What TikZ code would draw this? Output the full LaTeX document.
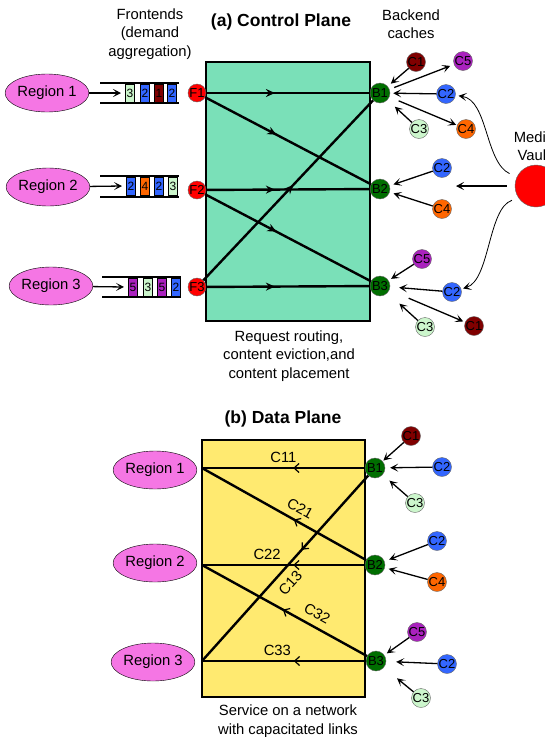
\documentclass[tikz,border=0pt]{standalone}
\usepackage{fontspec}
\setmainfont{Liberation Sans}
\usepackage{tikz}
\usetikzlibrary{shapes.geometric, arrows.meta, decorations.markings}
\definecolor{cMint}{RGB}{122,224,184}
\definecolor{cSand}{RGB}{255,234,112}
\definecolor{cPink}{RGB}{245,118,228}
\definecolor{cFront}{RGB}{255,0,0}
\definecolor{cBack}{RGB}{0,110,0}
\definecolor{cMaroon}{RGB}{128,0,0}
\definecolor{cBlue}{RGB}{51,102,255}
\definecolor{cPale}{RGB}{204,246,204}
\definecolor{cOrange}{RGB}{255,102,0}
\definecolor{cPurple}{RGB}{170,34,190}
\tikzset{
	region/.style   ={ellipse, draw=black, fill=cPink, minimum width=76pt, minimum height=38pt, inner sep=0pt},
	front/.style    ={circle, draw=black!60, fill=cFront, minimum size=18pt, inner sep=0pt, font=\fontsize{13}{13}\selectfont},
	back/.style     ={circle, draw=black!60, fill=cBack, minimum size=20pt, inner sep=0pt, font=\fontsize{13}{13}\selectfont},
	cache/.style    ={circle, draw=black!60, fill=#1, minimum size=19pt, inner sep=0pt, font=\fontsize{13}{13}\selectfont},
	qcell/.style    ={rectangle, draw=black, fill=#1, minimum width=9pt, minimum height=18pt, inner sep=0pt, font=\fontsize{12}{12}\selectfont},
	plane/.style    ={rectangle, draw=black, line width=1.6pt, fill=#1},
	link/.style     ={line width=2.4pt},
	fwdmark/.style  ={postaction={decorate}, decoration={markings, mark=at position #1 with {\arrow{Stealth[length=9pt,width=8pt,inset=3pt]}}}},
	backmark/.style ={postaction={decorate}, decoration={markings, mark=at position #1 with {\arrow{Straight Barb[length=5pt,width=9pt,line width=1.2pt]}}}},
	fetch/.style    ={-{Stealth[length=8pt,width=8pt,inset=4pt]}, line width=1.3pt},
	push/.style     ={-{Stealth[length=8pt,width=8pt,inset=4pt]}, line width=0.8pt},
	caption/.style  ={align=center, font=\fontsize{14.8}{18.5}\selectfont},
	heading/.style  ={font=\fontsize{17.5}{20}\selectfont\bfseries},
}
\begin{document}
\begin{tikzpicture}[x=1pt, y=-1pt, font=\fontsize{14.8}{18}\selectfont]
	\useasboundingbox (0,0) rectangle (545,737);
	\clip (0,0) rectangle (545,737);
	% (a) control plane
	\node[heading] (titleA) at (281,22) {(a) Control Plane};
	\node[caption] (frontLbl) at (150,34) {Frontends\\(demand\\aggregation)};
	\node[caption] (backLbl) at (411,24) {Backend\\caches};
	\filldraw[plane=cMint] (206,62) rectangle (370,321);
	\node[region] (reg1) at (47,93) {Region 1};
	\node[region] (reg2) at (48,187) {Region 2};
	\node[region] (reg3) at (51,286) {Region 3};
	% demand queues
	\draw[line width=1.2pt] (100,83) -- (179,83) (100,103) -- (179,103);
	\draw[line width=1.2pt] (100,176) -- (179,176) (100,197) -- (179,197);
	\draw[line width=1.2pt] (102,277) -- (181,277) (102,297) -- (181,297);
	\coordinate (in1) at (121,93);
	\coordinate (in2) at (122,186);
	\coordinate (in3) at (124,287);
	\draw[fetch] (reg1) -- (in1);
	\draw[fetch] (reg2) -- (in2);
	\draw[fetch] (reg3) -- (in3);
	\node[qcell=cPale]   (q1a) at (130,93) {3};
	\node[qcell=cBlue]   (q1b) at (145,93) {2};
	\node[qcell=cMaroon] (q1c) at (159,93) {1};
	\node[qcell=cBlue]   (q1d) at (172,93) {2};
	\node[qcell=cBlue]   (q2a) at (131,186.5) {2};
	\node[qcell=cOrange] (q2b) at (145,186.5) {4};
	\node[qcell=cBlue]   (q2c) at (159,186.5) {2};
	\node[qcell=cPale]   (q2d) at (173,186.5) {3};
	\node[qcell=cPurple] (q3a) at (133,287) {5};
	\node[qcell=cPale]   (q3b) at (148,287) {3};
	\node[qcell=cPurple] (q3c) at (162,287) {5};
	\node[qcell=cBlue]   (q3d) at (176,287) {2};
	% frontends and backends
	\node[front] (f1) at (197,93) {F1};
	\node[front] (f2) at (197,190) {F2};
	\node[front] (f3) at (197,287) {F3};
	\node[back] (b1) at (380,93) {B1};
	\node[back] (b2) at (380,189) {B2};
	\node[back] (b3) at (380,286) {B3};
	\draw[link, fwdmark=0.42] (f1) -- (b1);
	\draw[link, fwdmark=0.43] (f1) -- (b2);
	\draw[link, fwdmark=0.42] (f2) -- (b2);
	\draw[link, fwdmark=0.43] (f2) -- (b3);
	\draw[link, fwdmark=0.42] (f3) -- (b3);
	\draw[link, fwdmark=0.53] (f3) -- (b1);
	% backend caches
	\node[cache=cMaroon] (c1a) at (416,62) {C1};
	\node[cache=cPurple] (c5a) at (463,61) {C5};
	\node[cache=cBlue]   (c2a) at (446,94) {C2};
	\node[cache=cOrange] (c4a) at (466,129) {C4};
	\node[cache=cPale]   (c3a) at (419,129) {C3};
	\draw[fetch, shorten >=4pt] (c1a) -- (b1);
	\draw[fetch, shorten <=5pt, shorten >=4pt] (b1) -- (c5a);
	\draw[fetch, shorten >=3pt] (c2a) -- (b1);
	\draw[fetch, shorten <=10pt, shorten >=1pt] (b1) -- (c4a);
	\draw[fetch, shorten >=10pt] (c3a) -- (b1);
	\node[cache=cBlue]   (c2b) at (442,168) {C2};
	\node[cache=cOrange] (c4b) at (442,209) {C4};
	\draw[fetch, shorten >=4pt] (c2b) -- (b2);
	\draw[fetch, shorten >=4pt] (c4b) -- (b2);
	\node[cache=cPurple] (c5c) at (422,259) {C5};
	\node[cache=cBlue]   (c2c) at (452,292) {C2};
	\node[cache=cMaroon] (c1c) at (474,326) {C1};
	\node[cache=cPale]   (c3c) at (425,327) {C3};
	\draw[fetch, shorten >=3pt] (c5c) -- (b3);
	\draw[fetch, shorten >=9pt] (c2c) -- (b3);
	\draw[fetch, shorten <=21pt, shorten >=2pt] (b3) -- (c1c);
	\draw[fetch, shorten >=16pt] (c3c) -- (b3);
	% media vault
	\node[circle, draw=black!60, fill=cFront, minimum size=42pt] (vault) at (536,186) {};
	\node[caption] (vaultLbl) at (534,146) {Media\\Vault};
	\coordinate (vaultTip) at (456,186);
	\draw[fetch, shorten <=8pt] (vault) -- (vaultTip);
	\draw[push, shorten <=8pt, shorten >=3pt] (vault.155) .. controls (485,162) and (488,100) .. (c2a);
	\draw[push, shorten <=7pt, shorten >=2pt] (vault.215) .. controls (488,208) and (490,280) .. (c2c);
	\node[caption] (ctrlCap) at (289,356) {Request routing,\\content eviction,and\\content placement};
	% (b) data plane
	\node[heading] (titleB) at (283,419) {(b) Data Plane};
	\filldraw[plane=cSand] (202,440) rectangle (365,697);
	\node[region] (reg1d) at (155,470) {Region 1};
	\node[region] (reg2d) at (155,563) {Region 2};
	\node[region] (reg3d) at (153,662) {Region 3};
	\coordinate (out1) at (202,468);
	\coordinate (out2) at (202,565);
	\coordinate (out3) at (202,661);
	\node[back] (b1d) at (375,468) {B1};
	\node[back] (b2d) at (375,565) {B2};
	\node[back] (b3d) at (376,661) {B3};
	\draw[link, backmark=0.44] (b1d) -- (out1) node[pos=0.5, above=1pt] {C11};
	\draw[link, backmark=0.44] (b2d) -- (out1) node[pos=0.44, sloped, above=3pt] {C21};
	\draw[link, backmark=0.44] (b2d) -- (out2) node[pos=0.6, above=1pt] {C22};
	\draw[link, backmark=0.51] (b3d) -- (out2) node[pos=0.34, sloped, above=3pt] {C32};
	\draw[link, backmark=0.44] (b3d) -- (out3) node[pos=0.54, above=1pt] {C33};
	\draw[link, backmark=0.4] (b1d) -- (out3) node[pos=0.53, sloped, below=4pt] {C13};
	\node[cache=cMaroon] (c1d) at (411,436) {C1};
	\node[cache=cBlue]   (c2d) at (442,467) {C2};
	\node[cache=cPale]   (c3d) at (415,503) {C3};
	\draw[fetch, shorten >=1pt] (c1d) -- (b1d);
	\draw[fetch, shorten >=5pt] (c2d) -- (b1d);
	\draw[fetch, shorten >=9pt] (c3d) -- (b1d);
	\node[cache=cBlue]   (c2e) at (437,541) {C2};
	\node[cache=cOrange] (c4e) at (437,582) {C4};
	\draw[fetch, shorten >=5pt] (c2e) -- (b2d);
	\draw[fetch, shorten >=4pt] (c4e) -- (b2d);
	\node[cache=cPurple] (c5f) at (417,632) {C5};
	\node[cache=cBlue]   (c2f) at (447,664) {C2};
	\node[cache=cPale]   (c3f) at (421,698) {C3};
	\draw[fetch, shorten >=3pt] (c5f) -- (b3d);
	\draw[fetch, shorten >=10pt] (c2f) -- (b3d);
	\draw[fetch, shorten >=17pt] (c3f) -- (b3d);
	\node[caption] (dataCap) at (288,721) {Service on a network\\with capacitated links};
\end{tikzpicture}
\end{document}
